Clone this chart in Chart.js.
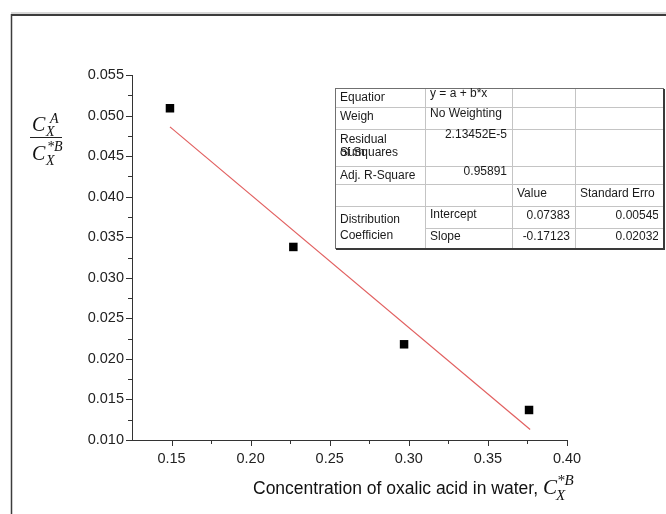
<!DOCTYPE html>
<html>
<head>
<meta charset="utf-8">
<script src="https://cdn.jsdelivr.net/npm/chart.js@4.4.0/dist/chart.umd.min.js"></script>
<style>
  body { margin: 0; background: #fff; }
  #grafico { display: block; }
</style>
</head>
<body>
<canvas id="grafico" width="666" height="514"></canvas>
<script>
// Datos medidos
var concAgua = [0.149, 0.227, 0.297, 0.376];
var razonCoef = [0.0509, 0.0338, 0.0218, 0.0137];

// Recta de ajuste (extremos)
var ajusteX = [0.149, 0.3767];
var ajusteY = [0.0486, 0.0113];

// Ticks de los ejes
var ticksX = [0.15, 0.20, 0.25, 0.30, 0.35, 0.40];
var menoresX = [0.175, 0.225, 0.275, 0.325, 0.375];
var ticksY = [0.010, 0.015, 0.020, 0.025, 0.030, 0.035, 0.040, 0.045, 0.050, 0.055];
var menoresY = [0.0125, 0.0175, 0.0225, 0.0275, 0.0325, 0.0375, 0.0425, 0.0475, 0.0525];

// Tabla de resultados del ajuste
var filasTabla = [
    ['Equation', 'y = a + b*x', '', ''],
    ['Weight', 'No Weighting', '', ''],
    ['Residual Sum of Squares', '2.13452E-5', '', ''],
    ['Adj. R-Square', '0.95891', '', ''],
    ['', '', 'Value', 'Standard Error'],
    ['Distribution Coefficient', 'Intercept', '0.07383', '0.00545'],
    ['', 'Slope', '-0.17123', '0.02032']
];

var FUENTE = '"Liberation Sans", Arial, sans-serif';
var SERIF = '"Liberation Serif", "Times New Roman", serif';

function puntos(xs, ys) {
    return xs.map(function (x, i) { return { x: x, y: ys[i] }; });
}

// marco, ticks, titulos de ejes y tabla
var extras = {
    id: 'extras',
    beforeDraw: function (chart) {
        var ctx = chart.ctx;
        ctx.save();
        ctx.fillStyle = '#fff';
        ctx.fillRect(0, 0, chart.width, chart.height);
        // marco
        ctx.strokeStyle = '#b0b0b0';
        ctx.lineWidth = 1;
        ctx.beginPath(); ctx.moveTo(11, 13); ctx.lineTo(666, 13); ctx.stroke();
        ctx.strokeStyle = '#3c3c3c';
        ctx.lineWidth = 2;
        ctx.beginPath(); ctx.moveTo(11, 15); ctx.lineTo(666, 15); ctx.stroke();
        ctx.lineWidth = 1.5;
        ctx.beginPath(); ctx.moveTo(11.5, 14); ctx.lineTo(11.5, 514); ctx.stroke();
        ctx.restore();
    },
    afterDraw: function (chart) {
        var ctx = chart.ctx;
        var sx = chart.scales.x, sy = chart.scales.y;
        var area = chart.chartArea;
        ctx.save();
        ctx.strokeStyle = '#333';
        ctx.lineWidth = 1;
        ctx.beginPath();
        ticksX.forEach(function (v) {
            var px = Math.round(sx.getPixelForValue(v)) + 0.5;
            ctx.moveTo(px, area.bottom); ctx.lineTo(px, area.bottom + 6);
        });
        menoresX.forEach(function (v) {
            var px = Math.round(sx.getPixelForValue(v)) + 0.5;
            ctx.moveTo(px, area.bottom); ctx.lineTo(px, area.bottom + 4);
        });
        ticksY.forEach(function (v) {
            var py = Math.round(sy.getPixelForValue(v)) + 0.5;
            ctx.moveTo(area.left, py); ctx.lineTo(area.left - 6, py);
        });
        menoresY.forEach(function (v) {
            var py = Math.round(sy.getPixelForValue(v)) + 0.5;
            ctx.moveTo(area.left, py); ctx.lineTo(area.left - 4, py);
        });
        ctx.stroke();

        // titulo eje x
        ctx.fillStyle = '#111';
        ctx.textBaseline = 'alphabetic';
        ctx.textAlign = 'left';
        ctx.font = '17.5px ' + FUENTE;
        var txt = 'Concentration of oxalic acid in water, ';
        var x0 = 253;
        ctx.fillText(txt, x0, 494);
        var xc = x0 + ctx.measureText(txt).width;
        ctx.font = 'italic 21px ' + SERIF;
        ctx.fillText('C', xc, 494);
        var wc = ctx.measureText('C').width;
        ctx.font = 'italic 15px ' + SERIF;
        ctx.fillText('X', xc + wc - 1, 500);
        ctx.fillText('*B', xc + wc, 485);

        // titulo eje y (fraccion)
        ctx.font = 'italic 20px ' + SERIF;
        ctx.fillText('C', 32, 131);
        ctx.fillText('C', 32, 160);
        ctx.font = 'italic 14px ' + SERIF;
        ctx.fillText('A', 50, 123);
        ctx.fillText('X', 46, 136);
        ctx.fillText('*B', 47, 151);
        ctx.fillText('X', 46, 165);
        ctx.lineWidth = 1;
        ctx.strokeStyle = '#222';
        ctx.beginPath(); ctx.moveTo(30, 137.5); ctx.lineTo(62, 137.5); ctx.stroke();

        dibujarTabla(ctx);
        ctx.restore();
    }
};

function dibujarTabla(ctx) {
    var cols = [335, 425, 512, 575, 664];
    var filas = [88, 106.5, 128.5, 166, 184, 206, 227.5, 248];
    ctx.fillStyle = '#fff';
    ctx.fillRect(cols[0], filas[0], cols[4] - cols[0], filas[7] - filas[0]);

    // lineas internas
    ctx.strokeStyle = '#c4c4c4';
    ctx.lineWidth = 1;
    ctx.beginPath();
    for (var i = 1; i < filas.length - 1; i++) {
        var desde = (i === 6) ? cols[1] : cols[0];
        ctx.moveTo(desde, Math.round(filas[i]) + 0.5);
        ctx.lineTo(cols[4], Math.round(filas[i]) + 0.5);
    }
    for (var j = 1; j < cols.length - 1; j++) {
        ctx.moveTo(cols[j] + 0.5, filas[0]);
        ctx.lineTo(cols[j] + 0.5, filas[7]);
    }
    ctx.stroke();

    // borde y sombra
    ctx.strokeStyle = '#707070';
    ctx.strokeRect(cols[0] + 0.5, filas[0] + 0.5, cols[4] - cols[0] - 1, filas[7] - filas[0]);
    ctx.strokeStyle = '#3a3a3a';
    ctx.lineWidth = 2;
    ctx.beginPath();
    ctx.moveTo(cols[0] + 1, filas[7] + 1);
    ctx.lineTo(cols[4], filas[7] + 1);
    ctx.lineTo(cols[4], filas[0] + 1);
    ctx.stroke();

    ctx.font = '12px ' + FUENTE;
    ctx.fillStyle = '#1a1a1a';
    ctx.textBaseline = 'middle';

    // texto de una celda, recortado a su caja (limite opcional)
    function celda(texto, c, yc, alinear, limite) {
        var der = limite || (cols[c + 1] - 2);
        ctx.save();
        ctx.beginPath();
        ctx.rect(cols[c] + 1, filas[0], der - cols[c] - 1, filas[7] - filas[0]);
        ctx.clip();
        if (alinear === 'right') {
            ctx.textAlign = 'right';
            ctx.fillText(texto, cols[c + 1] - 5, yc);
        } else {
            ctx.textAlign = 'left';
            ctx.fillText(texto, cols[c] + 5, yc);
        }
        ctx.restore();
    }

    celda(filasTabla[0][0], 0, 97.5, 'left', 385);
    celda(filasTabla[0][1], 1, 94);
    celda(filasTabla[1][0], 0, 117, 'left', 374);
    celda(filasTabla[1][1], 1, 114);
    // "Residual Sum of Squares" en dos lineas, la segunda solapada
    celda('Residual', 0, 140);
    celda('Sum', 0, 153);
    celda('of Squares', 0, 153);
    celda(filasTabla[2][1], 1, 135, 'right');
    celda(filasTabla[3][0], 0, 175.5);
    celda(filasTabla[3][1], 1, 171.5, 'right');
    celda(filasTabla[4][2], 2, 193.5);
    celda(filasTabla[4][3], 3, 193.5, 'left', 655);
    celda('Distribution', 0, 220);
    celda('Coefficient', 0, 235.5, 'left', 393);
    celda(filasTabla[5][1], 1, 214.5, 'left', 477);
    celda(filasTabla[5][2], 2, 215.5, 'right');
    celda(filasTabla[5][3], 3, 215.5, 'right', 658);
    celda(filasTabla[6][1], 1, 236.5);
    celda(filasTabla[6][2], 2, 236.5, 'right');
    celda(filasTabla[6][3], 3, 236.5, 'right', 658);
}

var contexto = document.getElementById('grafico').getContext('2d');
var grafico = new Chart(contexto, {
    type: 'scatter',
    data: {
        datasets: [{
            label: 'Datos',
            data: puntos(concAgua, razonCoef),
            pointStyle: 'rect',
            pointRadius: 6,
            pointHoverRadius: 6,
            backgroundColor: '#000',
            borderColor: '#000',
            borderWidth: 0,
            showLine: false
        }, {
            label: 'Ajuste lineal',
            data: puntos(ajusteX, ajusteY),
            showLine: true,
            pointRadius: 0,
            borderColor: 'rgb(226, 96, 96)',
            borderWidth: 1.2,
            fill: false
        }]
    },
    options: {
        responsive: false,
        animation: false,
        layout: { padding: { left: 0, top: 75, right: 99, bottom: 0 } },
        plugins: {
            legend: { display: false },
            tooltip: { enabled: false }
        },
        scales: {
            x: {
                type: 'linear',
                min: 0.125,
                max: 0.40,
                grid: { display: false, drawTicks: false },
                border: { display: true, color: '#333', width: 1 },
                afterBuildTicks: function (scale) {
                    scale.ticks = ticksX.map(function (v) { return { value: v }; });
                },
                afterFit: function (scale) { scale.height = 74; },
                ticks: {
                    padding: 10,
                    color: '#222',
                    font: { family: FUENTE, size: 14.5 },
                    maxRotation: 0,
                    callback: function (v) { return v.toFixed(2); }
                }
            },
            y: {
                type: 'linear',
                min: 0.010,
                max: 0.055,
                grid: { display: false, drawTicks: false },
                border: { display: true, color: '#333', width: 1 },
                afterBuildTicks: function (scale) {
                    scale.ticks = ticksY.map(function (v) { return { value: v }; });
                },
                afterFit: function (scale) { scale.width = 132; },
                ticks: {
                    padding: 8,
                    color: '#222',
                    font: { family: FUENTE, size: 14.5 },
                    callback: function (v) { return v.toFixed(3); }
                }
            }
        }
    },
    plugins: [extras]
});
</script>
</body>
</html>
